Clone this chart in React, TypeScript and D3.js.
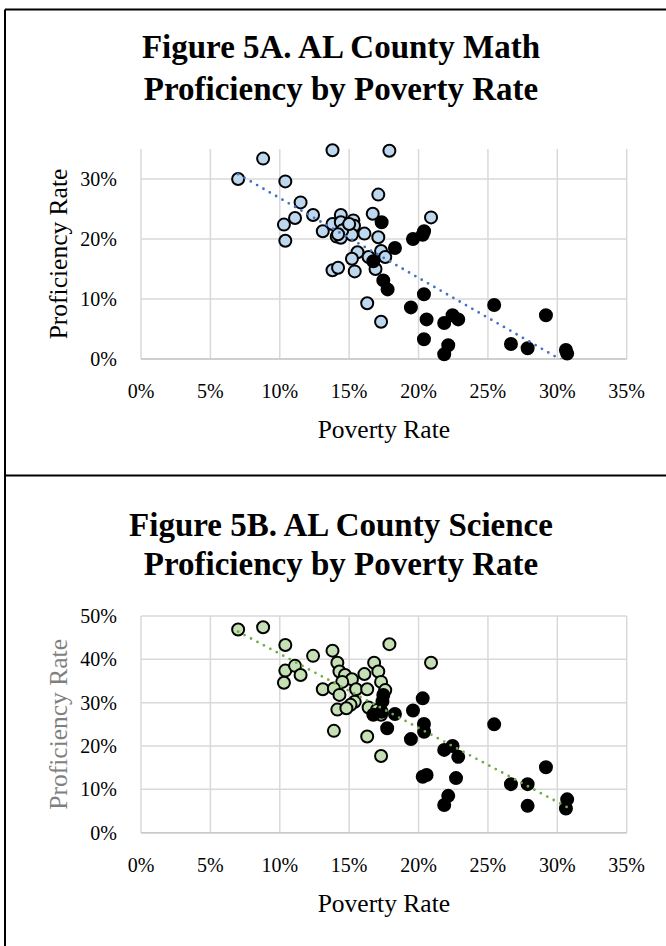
import React from "react";
import * as d3 from "d3";

// ---------- data ----------
const xTicks = [0, 0.05, 0.1, 0.15, 0.2, 0.25, 0.3, 0.35];
const yTicksMath = [0, 0.1, 0.2, 0.3];
const yTicksSci = [0, 0.1, 0.2, 0.3, 0.4, 0.5];

// Math proficiency: [poverty %, proficiency %]
const mathAll: [number, number][] = [
  [7.0, 30.0], [8.8, 33.4], [10.4, 29.6], [10.3, 22.4], [10.4, 19.7], [11.1, 23.5],
  [11.5, 26.1], [12.4, 24.0], [13.1, 21.3], [13.8, 22.5], [13.8, 34.8], [13.8, 14.8],
  [14.2, 15.2], [14.4, 24.0], [14.4, 22.8], [14.8, 21.8], [14.1, 20.4], [14.4, 20.2],
  [15.3, 23.1], [15.35, 22.2], [15.2, 20.7], [16.1, 20.9], [16.7, 24.2], [17.1, 27.4],
  [17.1, 20.3], [17.9, 34.7], [20.9, 23.6], [15.6, 17.8], [15.2, 16.7], [16.4, 17.0],
  [17.3, 18.0], [17.6, 17.0], [16.9, 15.0], [15.4, 14.6], [16.3, 9.3], [17.3, 6.2],
  [14.5, 21.4], [15.0, 22.5], [14.2, 20.8],
];
const mathHighlighted: [number, number][] = [
  [17.34, 22.8], [18.3, 18.5], [19.6, 20.0], [20.3, 20.7], [20.4, 21.3], [16.74, 16.3],
  [17.46, 13.1], [17.77, 11.6], [20.39, 10.8], [19.45, 8.6], [20.58, 6.6], [21.85, 6.0],
  [22.45, 7.3], [22.86, 6.6], [20.39, 3.3], [22.14, 2.3], [21.85, 0.8], [25.45, 9.0],
  [26.66, 2.5], [27.86, 1.8], [29.18, 7.3], [30.62, 1.5], [30.71, 0.9],
];
// Linear trendline endpoints
const mathTrend: [number, number][] = [[7.0, 30.8], [30.7, -0.7]];

// Science proficiency
const sciAll: [number, number][] = [
  [7.0, 46.9], [8.8, 47.4], [10.4, 43.3], [10.4, 37.4], [10.3, 34.6], [11.1, 38.5],
  [11.5, 36.4], [12.4, 40.8], [13.1, 33.1], [13.8, 42.0], [13.9, 23.5], [14.15, 39.2],
  [14.15, 28.4], [14.3, 37.2], [14.7, 36.4], [15.2, 35.4], [14.5, 34.8], [13.9, 33.3],
  [14.3, 31.8], [15.5, 33.1], [16.3, 33.1], [16.1, 36.6], [16.8, 39.2], [17.1, 37.2],
  [17.3, 34.8], [17.6, 32.9], [17.9, 43.5], [20.9, 39.2], [15.4, 30.2], [15.1, 29.5],
  [14.8, 28.7], [16.4, 28.9], [17.0, 28.3], [17.3, 27.2], [16.3, 22.2], [17.3, 17.7],
];
const sciHighlighted: [number, number][] = [
  [17.46, 31.8], [17.4, 30.3], [20.3, 31.0], [19.6, 28.2], [18.3, 27.4], [16.74, 27.2],
  [17.34, 27.9], [17.74, 24.1], [20.39, 25.1], [20.4, 23.3], [19.45, 21.6], [25.45, 25.0],
  [21.85, 19.1], [22.45, 20.0], [22.86, 17.5], [20.3, 12.9], [20.58, 13.3], [22.7, 12.6],
  [22.14, 8.5], [21.85, 6.4], [26.66, 11.2], [27.86, 11.2], [27.86, 6.2], [29.18, 15.1],
  [30.71, 7.7], [30.62, 5.6],
];
const sciTrend: [number, number][] = [[7.0, 46.4], [30.7, 5.9]];

const SERIF = "'Liberation Serif', 'Times New Roman', serif";

type PanelProps = {
  id: string;
  titleLines: string[];
  titleYs: number[];
  yTicks: number[];
  yMax: number;
  plotTop: number;
  plotBottom: number;
  all: [number, number][];
  hi: [number, number][];
  trend: [number, number][];
  fill: string;
  trendColor: string;
  yTitleColor: string;
};

const PLOT_LEFT = 141;
const PLOT_RIGHT = 626.7;

function Panel(p: PanelProps) {
  const x = d3.scaleLinear().domain([0, 0.35]).range([PLOT_LEFT, PLOT_RIGHT]);
  const y = d3.scaleLinear().domain([0, p.yMax]).range([p.plotBottom, p.plotTop]);
  const pct = d3.format(".0%");
  const line = d3
    .line<[number, number]>()
    .x((d) => x(d[0] / 100))
    .y((d) => y(d[1] / 100));
  const cx = (PLOT_LEFT + PLOT_RIGHT) / 2;
  const cy = (p.plotTop + p.plotBottom) / 2;
  return (
    <g>
      <defs>
        <clipPath id={`clip-${p.id}`}>
          <rect x={PLOT_LEFT} y={p.plotTop} width={PLOT_RIGHT - PLOT_LEFT} height={p.plotBottom - p.plotTop} />
        </clipPath>
      </defs>
      {p.titleLines.map((t, i) => (
        <text key={i} x={341} y={p.titleYs[i]} textAnchor="middle" fontFamily={SERIF} fontWeight="bold" fontSize={33} fill="#000">
          {t}
        </text>
      ))}
      {/* gridlines */}
      {p.yTicks.map((t) => (
        <line key={"gy" + t} x1={PLOT_LEFT} x2={PLOT_RIGHT} y1={y(t)} y2={y(t)} stroke="#d9d9d9" strokeWidth={1.5} />
      ))}
      {xTicks.map((t) => (
        <line key={"gx" + t} x1={x(t)} x2={x(t)} y1={p.plotTop} y2={p.plotBottom} stroke="#d9d9d9" strokeWidth={1.5} />
      ))}
      <line x1={PLOT_LEFT} x2={PLOT_RIGHT} y1={p.plotBottom} y2={p.plotBottom} stroke="#c8c8c8" strokeWidth={1.5} />
      {/* tick labels */}
      {p.yTicks.map((t) => (
        <text key={"ly" + t} x={117} y={y(t)} dy="0.35em" textAnchor="end" fontFamily={SERIF} fontSize={20} fill="#000">
          {pct(t)}
        </text>
      ))}
      {xTicks.map((t) => (
        <text key={"lx" + t} x={x(t)} y={p.plotBottom + 32} dy="0.35em" textAnchor="middle" fontFamily={SERIF} fontSize={20} fill="#000">
          {pct(t)}
        </text>
      ))}
      <text x={cx} y={p.plotBottom + 70} dy="0.35em" textAnchor="middle" fontFamily={SERIF} fontSize={25.5} fill="#000">
        Poverty Rate
      </text>
      <text
        transform={`translate(58,${cy}) rotate(-90)`}
        dy="0.35em"
        textAnchor="middle"
        fontFamily={SERIF}
        fontSize={25.5}
        fill={p.yTitleColor}
      >
        Proficiency Rate
      </text>
      {/* points */}
      <g>
        {p.all.map((d, i) => (
          <circle key={"a" + i} cx={x(d[0] / 100)} cy={y(d[1] / 100)} r={6} fill={p.fill} stroke="#000" strokeWidth={2} />
        ))}
      </g>
      <g>
        {p.hi.map((d, i) => (
          <circle key={"h" + i} cx={x(d[0] / 100)} cy={y(d[1] / 100)} r={6} fill="#000" stroke="#000" strokeWidth={2} />
        ))}
      </g>
      <path
        d={line(p.trend) || ""}
        clipPath={`url(#clip-${p.id})`}
        fill="none"
        stroke={p.trendColor}
        strokeWidth={2.8}
        strokeDasharray="0 7.3"
        strokeLinecap="round"
      />
    </g>
  );
}

export default function App() {
  return (
    <svg width={666} height={946} style={{ position: "absolute", left: 0, top: 0, background: "#fff" }}>
      <rect x={0} y={0} width={666} height={946} fill="#fff" />
      {/* frame */}
      <line x1={5} x2={666} y1={9.5} y2={9.5} stroke="#000" strokeWidth={2} />
      <line x1={5} x2={5} y1={9.5} y2={946} stroke="#000" strokeWidth={2} />
      <line x1={5} x2={666} y1={475.5} y2={475.5} stroke="#000" strokeWidth={2} />
      <Panel
        id="math"
        titleLines={["Figure 5A. AL County Math", "Proficiency by Poverty Rate"]}
        titleYs={[58, 100]}
        yTicks={yTicksMath}
        yMax={0.35}
        plotTop={149}
        plotBottom={359}
        all={mathAll}
        hi={mathHighlighted}
        trend={mathTrend}
        fill="#bdd7ee"
        trendColor="#4472c4"
        yTitleColor="#000"
      />
      <Panel
        id="sci"
        titleLines={["Figure 5B. AL County Science", "Proficiency by Poverty Rate"]}
        titleYs={[536, 575]}
        yTicks={yTicksSci}
        yMax={0.5}
        plotTop={616}
        plotBottom={832.7}
        all={sciAll}
        hi={sciHighlighted}
        trend={sciTrend}
        fill="#c5e0b4"
        trendColor="#70ad47"
        yTitleColor="#7f7f7f"
      />
    </svg>
  );
}
